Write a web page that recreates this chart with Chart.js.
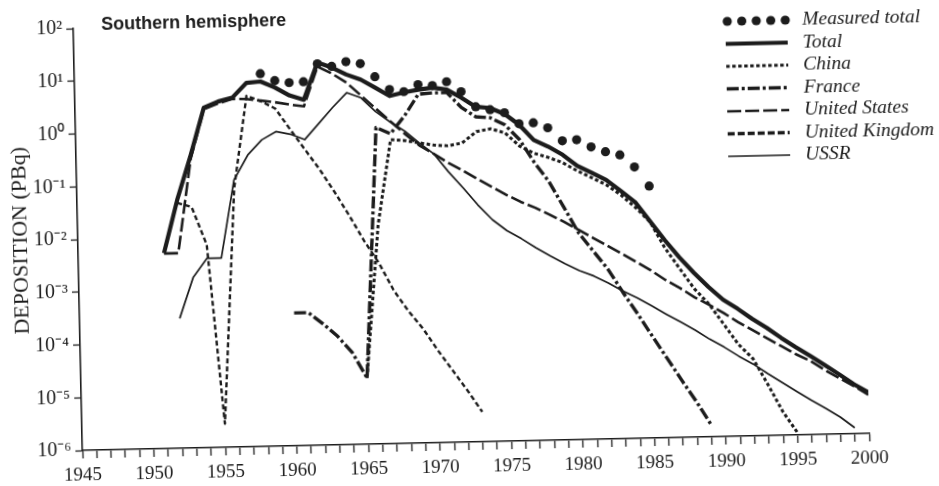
<!DOCTYPE html>
<html>
<head>
<meta charset="utf-8">
<script src="https://cdn.jsdelivr.net/npm/chart.js@4.4.1/dist/chart.umd.min.js"></script>
<style>
  html, body { margin: 0; padding: 0; background: #fff; overflow: hidden; }
  #wrap { width: 939px; height: 486px; transform: rotate(-1.24deg); transform-origin: 470px 243px; }
  canvas { display: block; }
</style>
</head>
<body>
<div id="wrap"><canvas id="chart" width="939" height="486"></canvas></div>
<script>
// Annual deposition in the southern hemisphere, PBq (log scale)
const chartTitle = 'Southern hemisphere';
const axisTitle = 'DEPOSITION (PBq)';

const years = [
  1951, 1952, 1953, 1954, 1955, 1956, 1957, 1958, 1959, 1960,
  1961, 1962, 1963, 1964, 1965, 1966, 1967, 1968, 1969, 1970,
  1971, 1972, 1973, 1974, 1975, 1976, 1977, 1978, 1979, 1980,
  1981, 1982, 1983, 1984, 1985, 1986, 1987, 1988, 1989, 1990,
  1991, 1992, 1993, 1994, 1995, 1996, 1997, 1998, 1999, 2000
];

const total = [
  0.0051, 0.051, 0.35, 2.8, 3.6, 4.2, 7.9, 8.3, 6.3, 4.4,
  3.6, 18, 14.3, 10.4, 8.2, 5.7, 3.9, 4.5, 5.0, 5.4,
  4.9, 3.4, 2.25, 2.1, 1.6, 0.99, 0.50, 0.37, 0.255, 0.155,
  0.113, 0.082, 0.05, 0.030, 0.013, 0.0056, 0.0026, 0.0013, 6.9e-4, 3.9e-4,
  2.6e-4, 1.65e-4, 1.1e-4, 7e-5, 4.6e-5, 3.1e-5, 2.05e-5, 1.35e-5, 8.7e-6, 6e-6
];

const china = [
  null, null, null, null, null, null, null, null, null, null,
  null, null, null, null, 1.8e-5, 0.014, 0.58, 0.55, 0.49, 0.44,
  0.42, 0.47, 0.76, 0.85, 0.70, 0.39, 0.28, 0.23, 0.18, 0.125,
  0.091, 0.066, 0.042, 0.024, 0.0126, 0.004, 0.0016, 6.5e-4, 3.3e-4, 1.35e-4,
  5.5e-5, 2.9e-5, 9.3e-6, 2.8e-6, 1.1e-6, null, null, null, null, null
];

const france = [
  null, null, null, null, null, null, null, null, null, 3.3e-4,
  3.3e-4, 2e-4, 1.15e-4, 5.6e-5, 1.8e-5, 1.0, 0.75, 1.6, 4.1, 4.3,
  4.3, 2.2, 1.45, 1.37, 1.0, 0.52, 0.19, 0.08, 0.026, 0.0083,
  0.0037, 0.00165, 6e-4, 2.3e-4, 8.5e-5, 3.2e-5, 1.2e-5, 4.6e-6, 1.65e-6, null,
  null, null, null, null, null, null, null, null, null, null
];

const unitedStates = [
  0.005, 0.005, 0.3, 2.6, 3.3, 4.0, 3.9, 3.6, 3.3, 2.95,
  2.7, 15, 11, 7.3, 4.1, 2.3, 1.3, 0.74, 0.44, 0.30,
  0.20, 0.14, 0.097, 0.067, 0.047, 0.034, 0.026, 0.019, 0.0136, 0.0095,
  0.0066, 0.0046, 0.0032, 0.0022, 0.0015, 9.8e-4, 6.8e-4, 4.5e-4, 3.2e-4, 2.2e-4,
  1.46e-4, 1.02e-4, 7e-5, 4.9e-5, 3.4e-5, 2.5e-5, 1.65e-5, 1.15e-5, 8e-6, 5.4e-6
];

const unitedKingdom = [
  null, 0.045, 0.037, 0.007, 2.8e-6, 0.08, 4.5, 3.5, 2.5, 1.0,
  0.41, 0.17, 0.063, 0.022, 0.0072, 0.0027, 8e-4, 3.2e-4, 1.45e-4, 5.6e-5,
  2.3e-5, 9.5e-6, 3.7e-6, null, null, null, null, null, null, null,
  null, null, null, null, null, null, null, null, null, null,
  null, null, null, null, null, null, null, null, null, null
];

const ussr = [
  null, 2.9e-4, 1.7e-3, 3.9e-3, 3.9e-3, 0.116, 0.34, 0.65, 0.92, 0.81,
  0.63, 1.25, 2.5, 4.7, 3.7, 2.0, 1.26, 0.83, 0.49, 0.30,
  0.135, 0.066, 0.031, 0.016, 0.0098, 0.0068, 0.0045, 0.0031, 0.0022, 0.0016,
  0.00125, 9.1e-4, 6.3e-4, 4.6e-4, 3.2e-4, 2.2e-4, 1.54e-4, 1.07e-4, 7.1e-5, 4.95e-5,
  3.3e-5, 2.3e-5, 1.5e-5, 1.0e-5, 6.7e-6, 4.5e-6, 3.1e-6, 2.1e-6, 1.3e-6, null
];

const measuredYears = [
  1958, 1959, 1960, 1961, 1962, 1963, 1964, 1965, 1966, 1967,
  1968, 1969, 1970, 1971, 1972, 1973, 1974, 1975, 1976, 1977,
  1978, 1979, 1980, 1981, 1982, 1983, 1984, 1985
];
const measuredTotal = [
  11.7, 8.5, 7.7, 7.9, 17, 15, 18.2, 16.5, 9.2, 5.2,
  4.66, 6.25, 5.9, 6.9, 4.4, 2.25, 1.95, 1.69, 1.03, 1.06,
  0.84, 0.47, 0.485, 0.35, 0.28, 0.24, 0.14, 0.060
];

const decadeTicks = [1e-6, 1e-5, 1e-4, 1e-3, 1e-2, 1e-1, 1e0, 1e1, 1e2];
const legendOrder = ['Measured total', 'Total', 'China', 'France', 'United States', 'United Kingdom', 'USSR'];

const ink = '#1c1c1c';
const serif = '"Liberation Serif", "Times New Roman", serif';

function toPoints(xs, vs) {
  return xs.map((x, i) => ({ x: x, y: vs[i] })).filter(p => p.y !== null);
}

const supDigits = { '0': '\u2070', '1': '\u00B9', '2': '\u00B2', '3': '\u00B3', '4': '\u2074',
  '5': '\u2075', '6': '\u2076', '7': '\u2077', '8': '\u2078', '9': '\u2079', '-': '\u207B' };
function powerLabel(v) {
  const e = String(Math.round(Math.log10(v)));
  return '10' + e.split('').map(c => supDigits[c]).join('');
}

function lineSet(label, data, width, dash) {
  return {
    label: label, data: data, borderColor: ink, backgroundColor: ink,
    borderWidth: width, borderDash: dash, pointRadius: 0, tension: 0,
    borderCapStyle: 'butt', borderJoinStyle: 'round', fill: false
  };
}

const datasets = [
  {
    label: 'Measured total', data: toPoints(measuredYears, measuredTotal),
    showLine: false, pointRadius: 4.6, pointBackgroundColor: ink,
    pointBorderWidth: 0, borderColor: ink, backgroundColor: ink
  },
  lineSet('Total', toPoints(years, total), 4.2, []),
  lineSet('France', toPoints(years, france), 3.4, [12, 3, 3, 3]),
  lineSet('China', toPoints(years, china), 3, [3.5, 2.5]),
  lineSet('United States', toPoints(years, unitedStates), 2.6, [14, 4]),
  lineSet('United Kingdom', toPoints(years, unitedKingdom), 2.4, [5, 3]),
  lineSet('USSR', toPoints(years, ussr), 1.7, [])
];

// Title and key drawn on the canvas after the series
const keyPlugin = {
  id: 'keyBlock',
  afterDraw(chart) {
    const ctx = chart.ctx;
    ctx.save();
    ctx.fillStyle = ink;
    ctx.textBaseline = 'middle';
    ctx.font = 'bold 18px "Liberation Sans", Arial, sans-serif';
    ctx.fillText(chartTitle, 106, 17);

    const x0 = 730, x1 = 792, tx = 807, y0 = 27, dy = 22.5;
    legendOrder.forEach((label, i) => {
      const ds = chart.data.datasets.find(d => d.label === label);
      const y = y0 + i * dy;
      if (ds.showLine === false) {
        for (let k = 0; k < 5; k++) {
          ctx.beginPath();
          ctx.arc(x0 + 2 + k * 14.5, y, ds.pointRadius, 0, Math.PI * 2);
          ctx.fill();
        }
      } else {
        ctx.beginPath();
        const thick = label === 'United Kingdom' ? 3.6 : ds.borderWidth;
        const dash = label === 'United Kingdom' ? [7, 3] : (ds.borderDash || []);
        ctx.setLineDash(dash);
        ctx.lineWidth = thick;
        ctx.strokeStyle = ds.borderColor;
        ctx.lineCap = 'butt';
        ctx.moveTo(x0, y);
        ctx.lineTo(x1, y);
        ctx.stroke();
        ctx.setLineDash([]);
      }
      ctx.font = 'italic 19.5px ' + serif;
      ctx.fillText(label, tx, y);
    });
    ctx.restore();
  }
};

new Chart(document.getElementById('chart'), {
  type: 'line',
  data: { datasets: datasets },
  options: {
    responsive: false,
    animation: false,
    events: [],
    layout: { padding: { left: 0, right: 74, top: 20, bottom: 0 } },
    plugins: { legend: { display: false }, tooltip: { enabled: false }, title: { display: false } },
    scales: {
      x: {
        type: 'linear', min: 1945, max: 2000,
        afterFit(s) { s.height = 44; },
        ticks: {
          stepSize: 1, autoSkip: false, maxRotation: 0, maxTicksLimit: 100, padding: 6,
          color: ink, font: { family: serif, size: 19 },
          callback: v => (v % 5 === 0 ? String(v) : '')
        },
        grid: { drawOnChartArea: false, drawTicks: true, tickLength: 8, tickColor: ink, tickWidth: 1.3 },
        border: { display: true, color: ink, width: 1.6 }
      },
      y: {
        type: 'logarithmic', min: 1e-6, max: 100,
        afterFit(s) { s.width = 78; },
        afterBuildTicks(s) { s.ticks = decadeTicks.map(v => ({ value: v })); },
        ticks: { color: ink, padding: 4, font: { family: serif, size: 20 }, callback: v => powerLabel(v) },
        grid: { drawOnChartArea: false, drawTicks: true, tickLength: 7, tickColor: ink, tickWidth: 1.3 },
        border: { display: true, color: ink, width: 1.6 },
        title: { display: true, text: axisTitle, color: ink, font: { family: serif, size: 22 }, padding: { top: 8, bottom: 0 } }
      }
    }
  },
  plugins: [keyPlugin]
});
</script>
</body>
</html>
